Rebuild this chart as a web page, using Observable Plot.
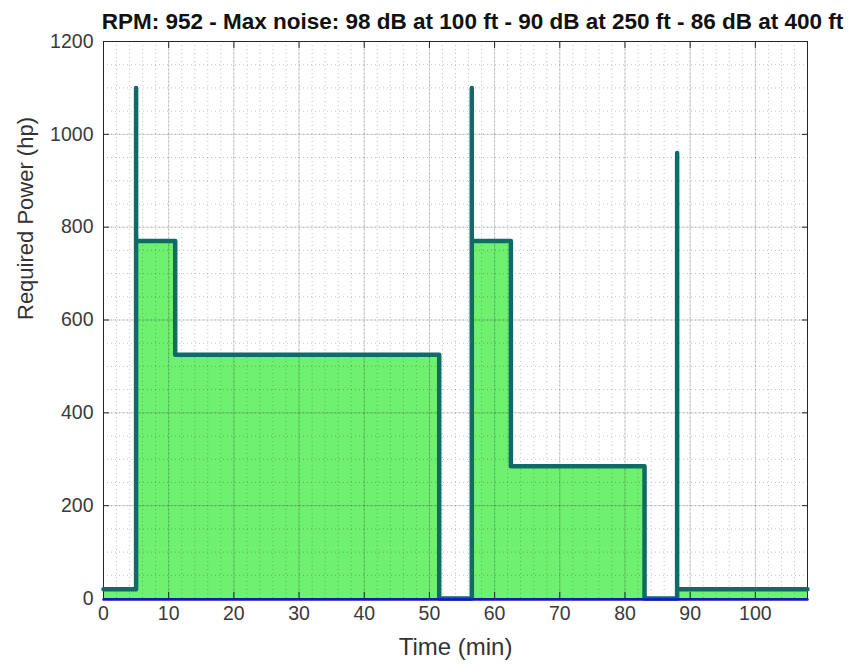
<!DOCTYPE html>
<html>
<head>
<meta charset="utf-8">
<script src="https://cdn.jsdelivr.net/npm/d3@7"></script>
<script src="https://cdn.jsdelivr.net/npm/@observablehq/plot@0.6"></script>
<style>
  html, body { margin: 0; padding: 0; background: #fff; }
</style>
</head>
<body>
<div id="chart"></div>
<script>
// Data (time in minutes, power in hp)
const timeMin  = [0, 5, 5, 5, 11, 11, 51.5, 51.5, 56.5, 56.5, 56.5, 62.5, 62.5, 83, 83, 88, 88, 88, 108];
const powerHp  = [20, 20, 1100, 770, 770, 525, 525, 0, 0, 1100, 770, 770, 285, 285, 0, 0, 960, 20, 20];
const baseTime = [0, 108];
const basePower = [0, 0];

const xTicks = [0, 10, 20, 30, 40, 50, 60, 70, 80, 90, 100];
const yTicks = [0, 200, 400, 600, 800, 1000, 1200];
const xMinor = d3.range(0, 109, 2);
const yMinor = d3.range(0, 1201, 50);

const titleText = "RPM: 952 - Max noise: 98 dB at 100 ft - 90 dB at 250 ft - 86 dB at 400 ft";
const xLabel = "Time (min)";
const yLabel = "Required Power (hp)";

const profile = timeMin.map((t, i) => ({t, p: powerHp[i]}));
const base = baseTime.map((t, i) => ({t, p: basePower[i]}));

const chart = Plot.plot({
  width: 854,
  height: 667,
  marginLeft: 103,
  marginRight: 47,
  marginTop: 41,
  marginBottom: 69,
  style: {fontFamily: "'Liberation Sans', Arial, sans-serif", fontSize: "19px", color: "#333", background: "#fff"},
  x: {domain: [0, 108], label: null},
  y: {domain: [0, 1200], label: null},
  marks: [
    Plot.area(profile, {x1: "t", y1: 0, y2: "p", fill: "#70f070", curve: "linear"}),
    // minor dotted grid
    Plot.ruleX(xMinor, {stroke: "#000", strokeOpacity: 0.3, strokeWidth: 0.8, strokeDasharray: "1,3"}),
    Plot.ruleY(yMinor, {stroke: "#000", strokeOpacity: 0.3, strokeWidth: 0.8, strokeDasharray: "1,3"}),
    // major grid
    Plot.ruleX(xTicks, {stroke: "#000", strokeOpacity: 0.15, strokeWidth: 1}),
    Plot.ruleY(yTicks, {stroke: "#000", strokeOpacity: 0.15, strokeWidth: 1}),
    Plot.frame({stroke: "#262626", strokeWidth: 1}),
    Plot.axisX(xTicks, {anchor: "bottom", tickSize: -6, tickPadding: 14, tickFormat: d => String(d), stroke: "#262626", label: null, fontSize: 19.5, fill: "#3a3a3a"}),
    Plot.axisX(xTicks, {anchor: "top", tickSize: -6, tickFormat: () => "", stroke: "#262626", label: null}),
    Plot.axisY(yTicks, {anchor: "left", tickSize: -6, tickPadding: 16, tickFormat: d => String(d), stroke: "#262626", label: null, fontSize: 19.5, fill: "#3a3a3a"}),
    Plot.axisY(yTicks, {anchor: "right", tickSize: -6, tickFormat: () => "", stroke: "#262626", label: null}),
    Plot.lineY(profile, {x: "t", y: "p", stroke: "#0e6b67", strokeWidth: 4.5, strokeLinejoin: "round", strokeLinecap: "round"}),
    Plot.lineY(base, {x: "t", y: "p", stroke: "#1515d0", strokeWidth: 2.5, dy: 1}),
    Plot.text([titleText], {frameAnchor: "top", dx: 17, dy: -28, fontWeight: "bold", fontSize: 22.5, fill: "#111"}),
    Plot.text([xLabel], {frameAnchor: "bottom", dy: 56, fontSize: 24, fill: "#333"}),
    Plot.text([yLabel], {frameAnchor: "left", dx: -78, rotate: -90, fontSize: 22, fill: "#333"})
  ]
});
document.getElementById("chart").appendChild(chart);
</script>
</body>
</html>
